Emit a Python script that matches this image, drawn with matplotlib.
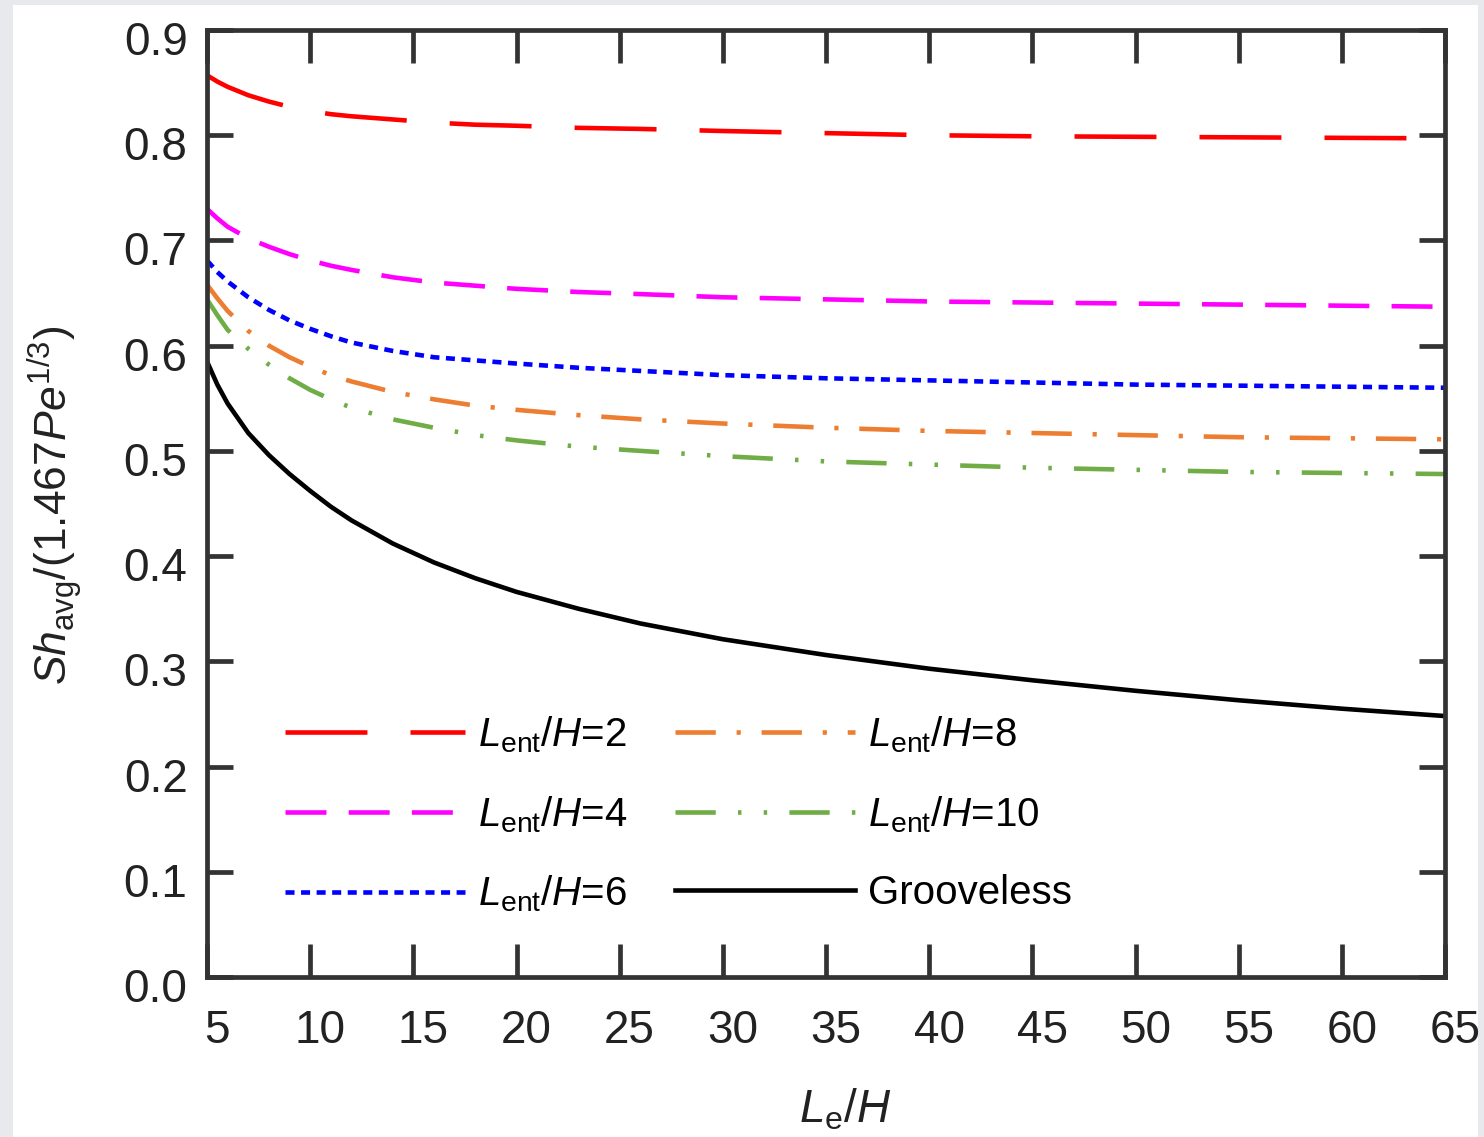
import matplotlib
matplotlib.use("Agg")
import matplotlib.pyplot as plt
from matplotlib.patches import Rectangle
from matplotlib.transforms import ScaledTranslation

plt.rcParams['font.family'] = ['Liberation Sans', 'DejaVu Sans']
plt.rcParams['mathtext.fontset'] = 'custom'
plt.rcParams['mathtext.rm'] = 'Liberation Sans'
plt.rcParams['mathtext.it'] = 'Liberation Sans:italic'
plt.rcParams['mathtext.bf'] = 'Liberation Sans:bold'
plt.rcParams['lines.scale_dashes'] = False

# ---- data ----
le_h = [5, 5.5, 6, 7, 8, 9, 10, 11, 12, 14, 16, 18, 20, 23, 26, 30, 35, 40, 45, 50, 55, 60, 65]
lent2 = [0.857, 0.851, 0.846, 0.838, 0.832, 0.827, 0.823, 0.820, 0.818, 0.815, 0.812, 0.810,
         0.809, 0.807, 0.806, 0.804, 0.802, 0.800, 0.799, 0.7985, 0.798, 0.7975, 0.797]
lent4 = [0.730, 0.721, 0.713, 0.702, 0.694, 0.687, 0.681, 0.676, 0.672, 0.665, 0.660, 0.657,
         0.654, 0.651, 0.649, 0.646, 0.644, 0.642, 0.641, 0.640, 0.639, 0.638, 0.637]
lent6 = [0.681, 0.670, 0.661, 0.646, 0.634, 0.624, 0.616, 0.609, 0.603, 0.595, 0.589, 0.586,
         0.583, 0.579, 0.576, 0.572, 0.569, 0.567, 0.565, 0.563, 0.562, 0.561, 0.560]
lent8 = [0.658, 0.645, 0.633, 0.614, 0.600, 0.589, 0.580, 0.572, 0.566, 0.556, 0.549, 0.543,
         0.539, 0.534, 0.530, 0.526, 0.522, 0.519, 0.517, 0.515, 0.513, 0.512, 0.511]
lent10 = [0.644, 0.629, 0.615, 0.597, 0.582, 0.569, 0.558, 0.549, 0.541, 0.530, 0.522, 0.515,
          0.510, 0.504, 0.500, 0.495, 0.490, 0.487, 0.484, 0.482, 0.480, 0.479, 0.478]
grooveless = [0.585, 0.563, 0.545, 0.517, 0.496, 0.478, 0.462, 0.447, 0.434, 0.412, 0.394, 0.379,
              0.366, 0.350, 0.336, 0.321, 0.306, 0.293, 0.282, 0.272, 0.263, 0.255, 0.248]

labels = [r"$L_{\mathrm{ent}}$/$H$=2", r"$L_{\mathrm{ent}}$/$H$=4", r"$L_{\mathrm{ent}}$/$H$=6",
          r"$L_{\mathrm{ent}}$/$H$=8", r"$L_{\mathrm{ent}}$/$H$=10", "Grooveless"]
xticks = [5, 10, 15, 20, 25, 30, 35, 40, 45, 50, 55, 60, 65]
yticks = [0.0, 0.1, 0.2, 0.3, 0.4, 0.5, 0.6, 0.7, 0.8, 0.9]

# ---- figure ----
fig = plt.figure(figsize=(14.84, 11.37), dpi=100)
fig.patch.set_facecolor('#e7e9ed')
bg = Rectangle((13 / 1484, 0), (1478 - 13) / 1484, 1 - 5 / 1137,
               transform=fig.transFigure, facecolor='white', edgecolor='none', zorder=-10)
fig.add_artist(bg)

ax = fig.add_axes([207 / 1484, 1 - 977 / 1137, (1445 - 207) / 1484, (977 - 30) / 1137])
ax.set_zorder(1)
ax.set_facecolor('none')

lw = 3.3
ax.plot(le_h, lent2, color='#ff0000', lw=lw, dashes=(59, 31), label=labels[0])
ax.plot(le_h, lent4, color='#ff00ff', lw=lw, dashes=(29.5, 16), label=labels[1])
ax.plot(le_h, lent6, color='#0000ff', lw=lw, dashes=(6.5, 4.7), label=labels[2])
ax.plot(le_h, lent8, color='#ed7d31', lw=lw, dashes=(29, 15, 3, 15), label=labels[3])
ax.plot(le_h, lent10, color='#70ad47', lw=lw, dashes=(29, 16, 2.5, 16, 2.5, 16), label=labels[4])
ax.plot(le_h, grooveless, color='black', lw=lw, label=labels[5])

ax.set_xlim(5, 65)
ax.set_ylim(0, 0.9)
ax.set_xticks(xticks)
ax.set_yticks(yticks)
ax.set_yticklabels([f"{v:.1f}" for v in yticks])

spine_c = '#333333'
for s in ax.spines.values():
    s.set_linewidth(3.4)
    s.set_color(spine_c)
ax.tick_params(axis='both', direction='in', top=True, right=True, width=3.4,
               color=spine_c, labelsize=33, labelcolor='#222222')
ax.tick_params(axis='x', length=24, pad=23)
ax.tick_params(axis='y', length=19, pad=14)

# small label offsets as in the original
for lab in ax.get_xticklabels():
    lab.set_transform(lab.get_transform() + ScaledTranslation(10 / 100, 0, fig.dpi_scale_trans))
for lab in ax.get_yticklabels():
    lab.set_transform(lab.get_transform() + ScaledTranslation(0, -8 / 100, fig.dpi_scale_trans))

ax.set_xlabel(r"$L_{\mathrm{e}}$/$H$", fontsize=33, labelpad=20, color='#222222')
ax.xaxis.set_label_coords((845 - 207) / 1238, -(1110 - 977) / 947, transform=ax.transAxes)
ax.xaxis.label.set_va('center')
ax.set_ylabel(r"$Sh_{\mathrm{avg}}$/(1.467$Pe^{\mathrm{1/3}}$)", fontsize=32, color='#222222')
ax.yaxis.set_label_coords(-(207 - 55) / 1238, (977 - 505) / 947, transform=ax.transAxes)
ax.yaxis.label.set_va('center')

leg = ax.legend(ncol=2, loc='lower left', bbox_to_anchor=(0.063, 0.066), frameon=False,
                fontsize=29, handlelength=4.47, handletextpad=0.33, columnspacing=1.17,
                labelspacing=0.97, borderpad=0, borderaxespad=0)

fig.savefig("out.png", dpi=100, facecolor=fig.get_facecolor())
